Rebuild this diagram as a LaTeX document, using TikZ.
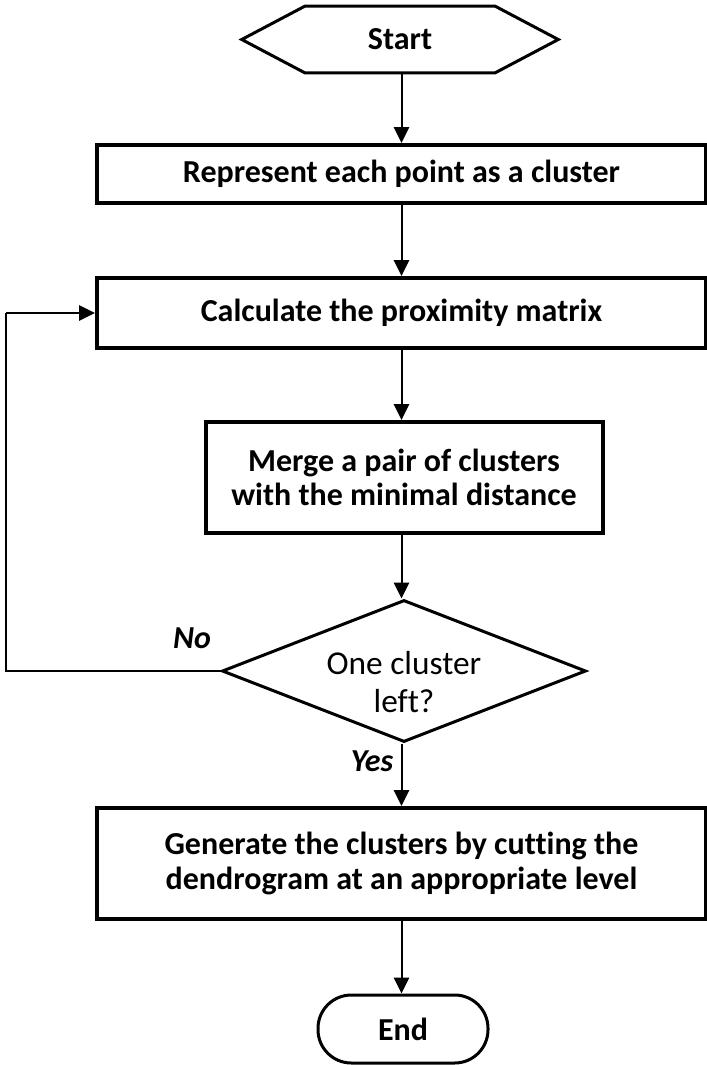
\documentclass[tikz,border=0pt]{standalone}
\usepackage{fontspec}
\setmainfont{Carlito}[Ligatures=NoCommon]
\usetikzlibrary{arrows.meta,shapes.geometric,positioning}
\begin{document}
\begin{tikzpicture}[x=0.75pt,y=-0.75pt,
  procbox/.style={draw=black,line width=3pt,rectangle,inner sep=0pt,align=center,
    font=\bfseries\fontsize{24}{26}\selectfont},
  hexnode/.style={rectangle,inner sep=0pt,minimum width=237pt,minimum height=49.5pt,
    font=\bfseries\fontsize{24}{26}\selectfont},
  decision/.style={draw=black,line width=2.25pt,diamond,inner sep=0pt,aspect=2.56,
    minimum width=273pt,minimum height=106.5pt},
  dtext/.style={align=center,inner sep=0pt,font=\fontsize{25}{28}\selectfont},
  termbox/.style={draw=black,line width=2.25pt,rectangle,rounded corners=25pt,inner sep=0pt,
    minimum width=127.5pt,minimum height=51pt,font=\bfseries\fontsize{24}{26}\selectfont},
  arr/.style={line width=1.5pt,-{Triangle[length=12pt,width=11.5pt]}},
  lbl/.style={font=\bfseries\itshape\fontsize{24}{26}\selectfont}]
\useasboundingbox (0,0) rectangle (707,1065);

\node[hexnode] (start) at (400,39.5) {Start};
\draw[line width=2.25pt,line join=miter]
  (start.west) -- ([xshift=47.25pt]start.north west) -- ([xshift=-47.25pt]start.north east)
  -- (start.east) -- ([xshift=-47.25pt]start.south east) -- ([xshift=47.25pt]start.south west) -- cycle;

\node[procbox,minimum width=456.75pt,minimum height=43.5pt] (b1) at (401.5,174) {Represent each point as a cluster};
\node[procbox,minimum width=456.75pt,minimum height=52.5pt] (b2) at (401.5,313) {Calculate the proximity matrix};
\node[procbox,minimum width=297.75pt,minimum height=83.25pt] (b3) at (404,477.5) {Merge a pair of clusters\\with the minimal distance};
\node[decision] (d) at (404,671) {};
\node[dtext] (dt) at (404,682) {One cluster\\left?};
\node[procbox,minimum width=456.75pt,minimum height=83.25pt] (b4) at (401.5,863.5) {Generate the clusters by cutting the\\dendrogram at an appropriate level};
\node[termbox] (end) at (403,1029) {End};

\node[lbl] (no) at (192,638) {No};
\node[lbl] (yes) at (372,761) {Yes};

\coordinate (c1) at (6,671);
\coordinate (c2) at (6,313);

\draw[arr] (start.south -| b1.north) -- (b1.north);
\draw[arr] (b1.south) -- (b2.north);
\draw[arr] (b2.south) -- (b2.south |- b3.north);
\draw[arr] (b2.south |- b3.south) -- (b2.south |- d.north);
\draw[arr] (b2.south |- d.south) -- (b4.north);
\draw[arr] (b4.south) -- (b4.south |- end.north);
\draw[line width=1.5pt] (d.west) -- (c1) -- (c2);
\draw[arr] (c2) -- (b2.west);
\end{tikzpicture}
\end{document}
